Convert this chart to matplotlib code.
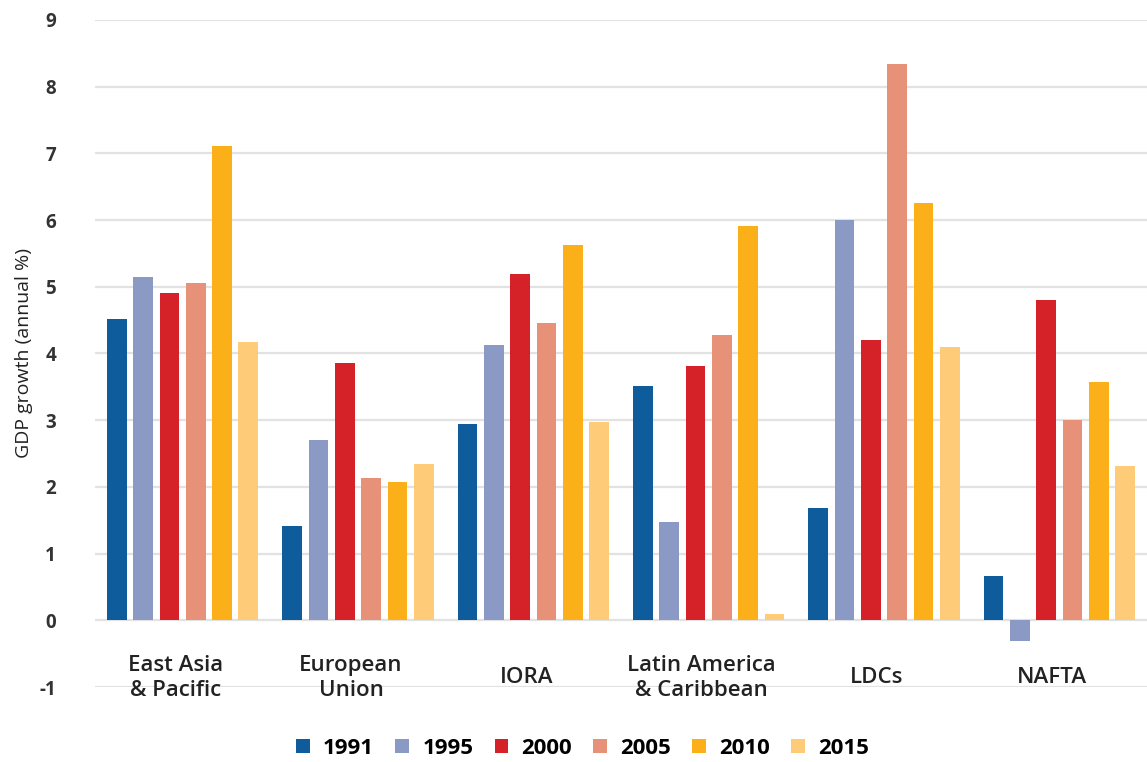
import numpy as np
import matplotlib.pyplot as plt
from matplotlib.patches import Patch

plt.rcParams['font.family'] = ['Open Sans', 'DejaVu Sans']

regions = ["East Asia\n& Pacific", "European\nUnion", "IORA",
           "Latin America\n& Caribbean", "LDCs", "NAFTA"]
years = ["1991", "1995", "2000", "2005", "2010", "2015"]

g1991 = [4.51, 1.41, 2.95, 3.51, 1.68, 0.67]
g1995 = [5.14, 2.70, 4.12, 1.48, 6.00, -0.31]
g2000 = [4.91, 3.86, 5.19, 3.81, 4.20, 4.80]
g2005 = [5.05, 2.13, 4.45, 4.27, 8.34, 3.00]
g2010 = [7.11, 2.08, 5.62, 5.91, 6.25, 3.58]
g2015 = [4.17, 2.34, 2.98, 0.09, 4.09, 2.31]

series = [g1991, g1995, g2000, g2005, g2010, g2015]
colors = ["#0F5C9C", "#8A9AC4", "#D52128", "#E69178", "#FBB01A", "#FECC78"]

fig = plt.figure(figsize=(11.47, 7.62), dpi=100)
ax = fig.add_axes([0.0828, 0.0984, 0.9172, 0.8754])

x = np.arange(len(regions))
step = 0.15
width = 0.113
for i, (vals, c) in enumerate(zip(series, colors)):
    ax.bar(x + (i - 2.5) * step, vals, width, color=c, zorder=3)

ax.set_xlim(-0.5, len(regions) - 0.5)
ax.set_ylim(-1, 9)
ax.set_yticks(range(-1, 10))
ax.set_yticklabels([str(v) for v in range(-1, 10)], fontsize=13.5,
                   fontweight='bold', color='#333333')
ax.tick_params(axis='y', length=0, pad=28)
ax.set_xticks([])
ax.grid(axis='y', color='#E2E2E2', linewidth=1.6, zorder=0)
for s in ax.spines.values():
    s.set_visible(False)

# category names sit between the 0 and -1 gridlines
for xi, name in zip(x, regions):
    ax.text(xi - 0.04, -0.86, name, ha='center', va='center', fontsize=16,
            fontweight='semibold', color='#222222', linespacing=1.25)

ax.set_ylabel("GDP growth (annual %)", fontsize=14, fontweight='medium',
              color='#222222', labelpad=5)

handles = [Patch(facecolor=c, label=y) for c, y in zip(colors, years)]
fig.legend(handles=handles, loc='center', bbox_to_anchor=(0.508, 0.018),
           ncol=6, frameon=False, handlelength=0.62, handleheight=0.62,
           handletextpad=0.6, columnspacing=0.95,
           prop={'size': 16, 'weight': 'bold'})

fig.savefig("out.png", dpi=100)
